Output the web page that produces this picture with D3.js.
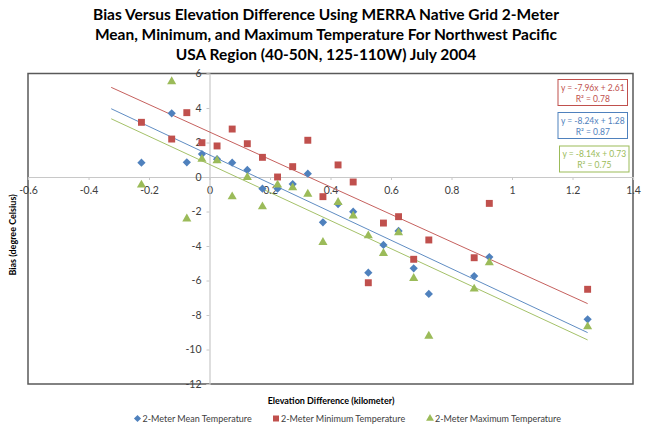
<!DOCTYPE html>
<html>
<head>
<meta charset="utf-8">
<script src="https://cdn.jsdelivr.net/npm/d3@7"></script>
<style>
  html, body { margin: 0; padding: 0; background: #fff; }
  svg { display: block; }
</style>
</head>
<body>
<svg id="chart" width="649" height="427"></svg>
<script>
// ---- Data ----
const titleLines = [
  "Bias Versus Elevation Difference Using MERRA Native Grid 2-Meter",
  "Mean, Minimum, and Maximum Temperature For Northwest Pacific",
  "USA Region (40-50N, 125-110W) July 2004"
];
const seriesNames = ["2-Meter Mean Temperature", "2-Meter Minimum Temperature", "2-Meter Maximum Temperature"];
const elevation = [-0.225, -0.125, -0.075, -0.025, 0.025, 0.075, 0.125, 0.175, 0.225, 0.275, 0.325,
                   0.375, 0.425, 0.475, 0.525, 0.575, 0.625, 0.675, 0.725, 0.875, 0.925, 1.25];
const meanBias = [0.83, 3.69, 0.85, 1.33, 1.03, 0.83, 0.41, -0.68, -0.68, -0.41, 0.19,
                  -2.63, -1.57, -2.01, -5.55, -3.94, -3.13, -5.29, -6.78, -5.74, -4.64, -8.25];
const minBias = [3.17, 2.20, 3.73, 1.99, 1.80, 2.78, 1.93, 1.14, 0.0, 0.60, 2.13,
                 -1.14, 0.70, -0.29, -6.13, -2.67, -2.30, -4.77, -3.65, -4.68, -1.53, -6.51];
const maxBias = [-0.46, 5.53, -2.42, 1.03, 0.95, -1.14, -0.02, -1.72, -0.46, -0.62, -0.99,
                 -3.79, -1.47, -2.26, -3.40, -4.42, -3.23, -5.87, -9.22, -6.49, -4.97, -8.68];
// trendline coefficients (as printed in the chart)
const trendSlope = [-8.24, -7.96, -8.14];
const trendIntercept = [1.28, 2.61, 0.73];
const trendR2 = ["0.87", "0.78", "0.75"];
const trendStart = -0.325;   // backward forecast of 0.1
const xTicks = [-0.6, -0.4, -0.2, 0, 0.2, 0.4, 0.6, 0.8, 1, 1.2, 1.4];
const yTicks = [-12, -10, -8, -6, -4, -2, 0, 2, 4, 6];
const xLabel = "Elevation Difference (kilometer)";
const yLabel = "Bias (degree Celsius)";

// ---- Drawing ----
const colors = ["#4F81BD", "#C0504D", "#9BBB59"];
const seriesValues = [meanBias, minBias, maxBias];
const symbols = [d3.symbolSquare, d3.symbolSquare, d3.symbolTriangle];
const symRot = [45, 0, 0];
const symSizes = [34, 48, 36];
const FONT = "Lato, 'Open Sans', sans-serif";

const svg = d3.select("#chart");
const plot = { left: 28, right: 633, top: 73.5, bottom: 384 };

const x = d3.scaleLinear().domain([-0.6, 1.4]).range([plot.left, plot.right]);
const y = d3.scaleLinear().domain([-12, 6]).range([plot.bottom, plot.top]);

// Title
const title = svg.append("text")
  .attr("x", 326).attr("y", 20)
  .attr("text-anchor", "middle")
  .style("font-family", FONT)
  .style("font-weight", "bold")
  .style("font-size", "15.5px")
  .attr("fill", "#000");
titleLines.forEach((t, i) => {
  title.append("tspan").attr("x", 326).attr("dy", i === 0 ? 0 : 20).text(t);
});

// Plot border
svg.append("rect")
  .attr("x", plot.left).attr("y", plot.top)
  .attr("width", plot.right - plot.left).attr("height", plot.bottom - plot.top)
  .attr("fill", "none").attr("stroke", "#595959").attr("stroke-width", 1.5);

const tickFont = g => g.selectAll("text")
  .style("font-family", FONT)
  .style("font-size", "10.5px")
  .attr("fill", "#404040");

// X axis at y = 0
const xAxis = svg.append("g")
  .attr("transform", `translate(0,${y(0)})`)
  .call(d3.axisBottom(x).tickValues(xTicks).tickSize(3).tickPadding(7)
        .tickFormat(d => String(+d.toFixed(1))));
xAxis.select(".domain").attr("stroke", "#c8c8c8").attr("stroke-width", 1.2);
xAxis.selectAll(".tick line").attr("stroke", "#c8c8c8");
xAxis.call(tickFont);

// Y axis at x = 0
const yAxis = svg.append("g")
  .attr("transform", `translate(${x(0)},0)`)
  .call(d3.axisLeft(y).tickValues(yTicks).tickSize(3).tickPadding(5)
        .tickFormat(d => String(d)));
yAxis.select(".domain").attr("stroke", "#c8c8c8").attr("stroke-width", 1.2);
yAxis.selectAll(".tick line").attr("stroke", "#c8c8c8");
yAxis.call(tickFont);

// Axis titles
svg.append("text")
  .attr("x", 331).attr("y", 404)
  .attr("text-anchor", "middle")
  .style("font-family", FONT)
  .style("font-weight", "bold").style("font-size", "9px")
  .attr("fill", "#000").text(xLabel);
svg.append("text")
  .attr("transform", `translate(16,235) rotate(-90)`)
  .attr("text-anchor", "middle")
  .style("font-family", FONT)
  .style("font-weight", "bold").style("font-size", "9px")
  .attr("fill", "#000").text(yLabel);

// Trendlines
const xEnd = d3.max(elevation);
[0, 1, 2].forEach(i => {
  const f = v => trendSlope[i] * v + trendIntercept[i];
  svg.append("line")
    .attr("x1", x(trendStart)).attr("y1", y(f(trendStart)))
    .attr("x2", x(xEnd)).attr("y2", y(f(xEnd)))
    .attr("stroke", colors[i]).attr("stroke-width", 1).attr("opacity", 0.9);
});

// Markers
[0, 1, 2].forEach(i => {
  svg.append("g").selectAll("path")
    .data(elevation.map((e, k) => [e, seriesValues[i][k]]))
    .join("path")
    .attr("d", d3.symbol().type(symbols[i]).size(symSizes[i]))
    .attr("transform", d => `translate(${x(d[0])},${y(d[1])}) rotate(${symRot[i]})`)
    .attr("fill", colors[i]);
});

// Equation boxes (order from top: min, mean, max)
const boxOrder = [1, 0, 2];
const boxTops = [79.5, 112.5, 146];
boxOrder.forEach((si, j) => {
  const bx = j === 2 ? 559.5 : 558, bw = 69.5, bh = 26;
  svg.append("rect")
    .attr("x", bx).attr("y", boxTops[j]).attr("width", bw).attr("height", bh)
    .attr("fill", "#fff").attr("stroke", colors[si]).attr("stroke-width", 1);
  const t = svg.append("text")
    .attr("text-anchor", "middle")
    .style("font-family", FONT)
    .style("font-size", "8.5px")
    .attr("fill", colors[si]);
  t.append("tspan").attr("x", bx + bw / 2).attr("y", boxTops[j] + 11)
    .text(`y = ${trendSlope[si].toFixed(2)}x + ${trendIntercept[si].toFixed(2)}`);
  t.append("tspan").attr("x", bx + bw / 2).attr("y", boxTops[j] + 22)
    .text(`R² = ${trendR2[si]}`);
});

// Legend
const legendX = [137.5, 276, 430];
seriesNames.forEach((n, i) => {
  svg.append("path")
    .attr("d", d3.symbol().type(symbols[i]).size(symSizes[i] * 0.75))
    .attr("transform", `translate(${legendX[i]},418.5) rotate(${symRot[i]})`)
    .attr("fill", colors[i]);
  svg.append("text")
    .attr("x", legendX[i] + 5).attr("y", 422)
    .style("font-family", FONT)
    .style("font-size", "9px")
    .attr("fill", "#404040").text(n);
});
</script>
</body>
</html>
